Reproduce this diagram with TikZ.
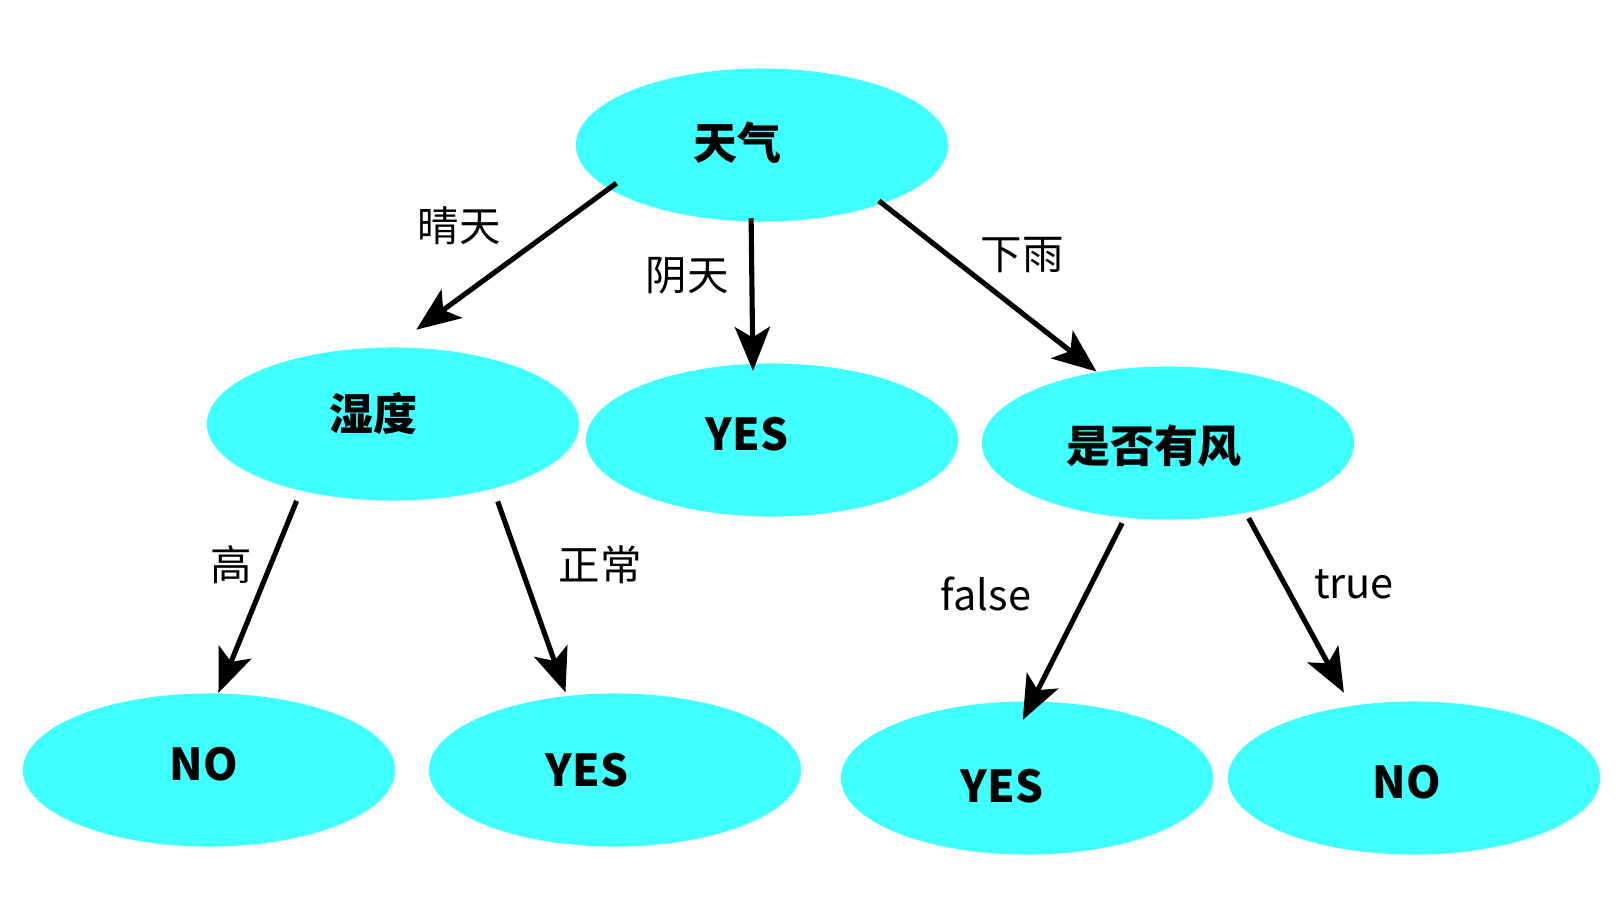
\documentclass[tikz,border=0pt]{standalone}
\usepackage{fontspec}
\setmainfont{Noto Sans CJK SC}
\usepackage{xcolor}
\definecolor{dtcyan}{RGB}{64, 255, 255}
\usetikzlibrary{arrows.meta, shapes.geometric}

\begin{document}
\begin{tikzpicture}[
    x=0.01cm, y=-0.01cm,
    >={Stealth[length=12.5pt, width=10pt, inset=3pt]},
    leaf/.style={ellipse, fill=dtcyan, minimum width=3.72cm, minimum height=1.53cm, inner sep=0pt},
    leaftext/.style={inner sep=0pt, font=\fontsize{12.5}{15}\selectfont\bfseries},
    arrow/.style={->, line width=1.45pt},
    cond/.style={inner sep=0pt, font=\fontsize{11.8}{14}\selectfont}
]
\useasboundingbox (0, 0) rectangle (1623, 915);

% === Nodos ===
\node[leaf] (tq) at (762, 145) {};
\node[leaf] (sd) at (393, 424) {};
\node[leaf] (ym) at (772, 440) {};
\node[leaf] (fx) at (1168, 443) {};
\node[leaf] (n1) at (209, 770) {};
\node[leaf] (y1) at (615, 770) {};
\node[leaf] (y2) at (1027, 778) {};
\node[leaf] (n2) at (1414, 778) {};

% texto (un poco a la izquierda del centro)
\node[leaftext] at ([shift={(-25,-2)}]tq) {天气};
\node[leaftext] at ([shift={(-20,-10)}]sd) {湿度};
\node[leaftext] at ([shift={(-25,-6)}]ym) {YES};
\node[leaftext] at ([shift={(-14,3)}]fx) {是否有风};
\node[leaftext] at ([shift={(-5,-6)}]n1) {NO};
\node[leaftext] at ([shift={(-28,0)}]y1) {YES};
\node[leaftext] at ([shift={(-25,8)}]y2) {YES};
\node[leaftext] at ([shift={(-7,4)}]n2) {NO};

% === Flechas ===
% 天气
\draw[arrow, shorten <=-2.8pt, shorten >=8.2pt] (tq.196) -- (sd.90);
\draw[arrow, shorten <=-1.1pt, shorten >=-2.2pt] (tq.262.6) -- (ym.104.8);
\draw[arrow, shorten <=-1.4pt] (tq.334) -- (fx.135.3);

% 湿度
\draw[arrow, shorten <=3pt] (sd.216.4) -- (n1.83.3);
\draw[arrow, shorten <=3.7pt, shorten >=0.9pt] (sd.327.7) -- (y1.123.4);

% 是否有风
\draw[arrow, shorten <=1.6pt, shorten >=-6.1pt] (fx.240.7) -- (y2.86.5);
\draw[arrow, shorten <=1.6pt, shorten >=4.1pt] (fx.318.6) -- (n2.131.6);

% === Etiquetas ===
\node[cond] at (459, 226) {晴天};
\node[cond] at (687, 276) {阴天};
\node[cond] at (1022, 255) {下雨};
\node[cond] at (231, 565) {高};
\node[cond] at (600, 565) {正常};
\node[cond] at (986, 594) {false};
\node[cond] at (1354, 584) {true};

\end{tikzpicture}
\end{document}
